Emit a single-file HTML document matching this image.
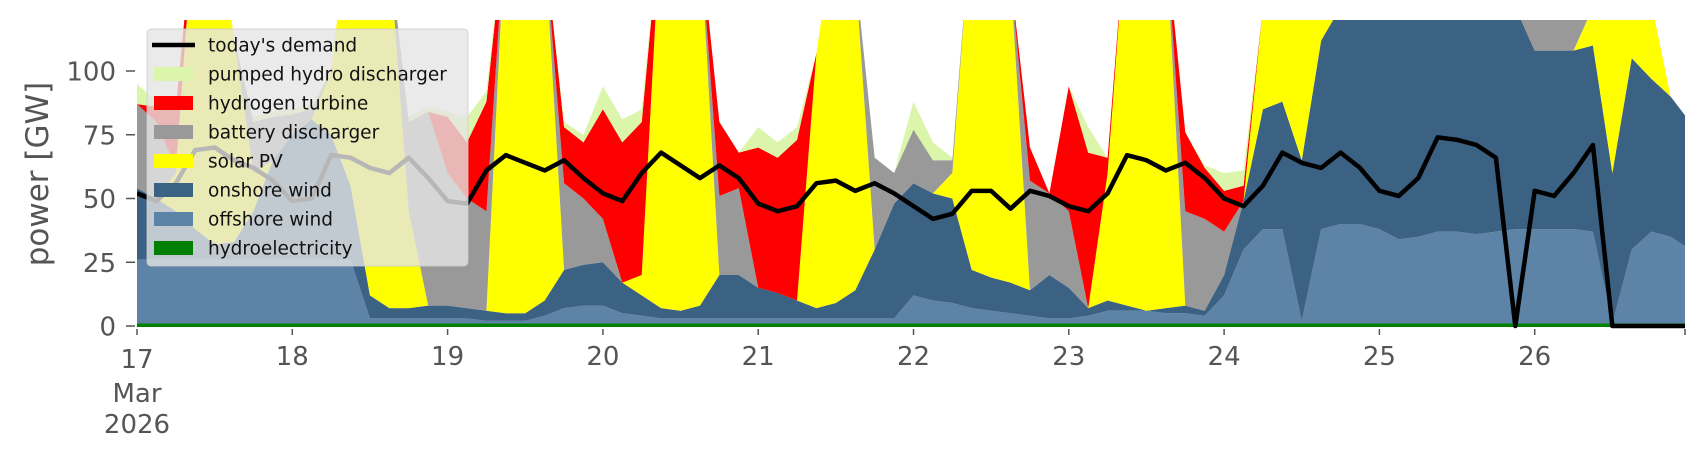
<!DOCTYPE html>
<html><head><meta charset="utf-8">
<style>
html,body{margin:0;padding:0;background:#fff;}
svg{display:block;font-family:"DejaVu Sans","Liberation Sans",sans-serif;}
</style></head>
<body>
<svg id="chart" width="1706" height="460" viewBox="0 0 1706 460" xmlns="http://www.w3.org/2000/svg">
<defs><clipPath id="plotclip"><rect x="137" y="20" width="1548" height="310"/></clipPath></defs>
<g id="areas" clip-path="url(#plotclip)"></g>
<g id="demandg" clip-path="url(#plotclip)"></g>
<g id="xaxis"></g>
<g id="yaxis"></g>
<text x="0" y="0" transform="translate(48,174) rotate(-90)" text-anchor="middle" font-size="31" fill="#555">power [GW]</text>
<g id="legend"></g>
</svg>
<script>
// time axis: 3-hourly samples starting 17 Mar 2026 00:00
const startDay = 17;
const stepDays = 1/8;
const hydro = [1,1,1,1,1,1,1,1, 1,1,1,1,1,1,1,1, 1,1,1,1,1,1,1,1, 1,1,1,1,1,1,1,1, 1,1,1,1,1,1,1,1, 1,1,1,1,1,1,1,1, 1,1,1,1,1,1,1,1, 1,1,1,1,1,1,1,1, 1,1,1,1,1,1,1,1, 1,1,1,1,1,1,1,1, 1];
const offshore = [25,25,25,25,25,25,25,25, 25,25,25,25,2,2,2,2, 2,2,1,1,1,3,6,7, 7,4,3,2,2,2,2,2, 2,2,2,2,2,2,2,2, 11,9,8,6,5,4,3,2, 2,3,5,5,5,4,4,3, 11,29,37,37,1,37,39,39, 37,33,34,36,36,35,36,37, 37,37,37,36,0,29,36,34, 29];
const onshore = [28,24,19,12,6,7,19,39, 49,55,49,29,9,4,4,5, 5,4,4,3,3,6,15,16, 17,12,8,4,3,5,17,17, 12,10,7,4,6,11,27,45, 44,42,41,15,13,12,10,17, 12,3,4,2,0,2,3,2, 8,19,47,50,63,74,85,85, 88,91,90,88,88,89,88,87, 70,70,70,73,59,75,60,55, 50];
const solar = [0,0,15,127,133,80,15,0, 0,0,25,110,150,140,38,0, 0,0,0,155,155,140,0,0, 0,0,8,155,155,145,0,0, 0,0,0,100,150,125,0,0, 0,0,10,140,145,120,0,0, 0,0,50,155,155,145,0,0, 0,0,40,37,60,13,0,0, 0,0,0,0,0,0,0,0, 0,0,0,15,100,60,30,0, 0];
const battery = [33,30,2,0,0,0,20,17, 8,4,0,0,0,0,35,76, 52,43,39,0,0,0,34,26, 17,0,0,0,0,0,31,34, 0,0,0,0,0,0,36,12, 21,13,5,0,0,0,43,32, 30,0,0,0,0,0,37,36, 17,0,0,0,0,0,0,0, 0,0,0,0,0,0,0,0, 17,17,17,0,0,0,0,0, 0];
const hydrogen = [0,6,23,0,0,0,0,0, 0,0,0,0,0,0,0,0, 22,22,43,0,0,0,22,22, 43,55,60,0,0,0,29,14, 55,53,63,0,0,0,0,0, 0,0,0,0,0,0,13,0, 49,61,6,0,0,0,31,20, 16,6,0,0,0,0,0,0, 0,0,0,0,0,0,0,0, 0,0,0,0,0,0,0,0, 0];
const pumped = [8,2,0,0,0,0,2,2, 2,2,0,0,0,0,2,2, 2,10,4,0,0,0,2,3, 9,9,5,0,0,0,0,0, 8,6,5,0,0,0,0,0, 11,7,1,0,0,0,0,0, 0,10,0,0,0,0,0,1, 7,6,0,0,0,0,0,0, 0,0,0,0,0,0,0,0, 0,0,0,0,0,0,0,0, 0];
const demand = [52,49,56,69,70,65,62,57, 49,50,67,66,62,60,66,58, 49,48,61,67,64,61,65,58, 52,49,60,68,63,58,63,58, 48,45,47,56,57,53,56,52, 47,42,44,53,53,46,53,51, 47,45,52,67,65,61,64,58, 50,47,55,68,64,62,68,62, 53,51,58,74,73,71,66,0, 53,51,60,71,0,0,0,0, 0];
const xTickLabels = ["17","18","19","20","21","22","23","24","25","26"];
const yTickValues = [0,25,50,75,100];
const seriesNames = ["hydroelectricity","offshore wind","onshore wind","solar PV","battery discharger","hydrogen turbine","pumped hydro discharger"];

const NS="http://www.w3.org/2000/svg";
function xScale(day){return 137 + (day-17)*155.3;}
function yScale(v){return 326 - v*2.55;}
function mk(tag,attrs,parent){const e=document.createElementNS(NS,tag);for(const k in attrs)e.setAttribute(k,attrs[k]);parent.appendChild(e);return e;}

const stack=[hydro,offshore,onshore,solar,battery,hydrogen,pumped];
const colors=["#008000","#5d83a6","#3b6283","#ffff00","#999999","#ff0000","#dbf6aa"];
const slugs=["area-hydroelectricity","area-offshore-wind","area-onshore-wind","area-solar-pv","area-battery-discharger","area-hydrogen-turbine","area-pumped-hydro"];
const areasG=document.getElementById('areas');
const n=demand.length;
let base=new Array(n).fill(0);
stack.forEach((s,k)=>{
  const top=base.map((b,i)=>b+s[i]);
  let d="";
  for(let i=0;i<n;i++){d+=(i?"L":"M")+xScale(startDay+i*stepDays).toFixed(2)+","+yScale(top[i]).toFixed(2);}
  for(let i=n-1;i>=0;i--){d+="L"+xScale(startDay+i*stepDays).toFixed(2)+","+yScale(base[i]).toFixed(2);}
  d+="Z";
  const p=mk('path',{d:d,fill:colors[k],stroke:k===0?colors[k]:"none","stroke-width":k===0?2:0},areasG);
  
  
  base=top;
});
// demand line
const dg=document.getElementById('demandg');
let dd="";
for(let i=0;i<n;i++){dd+=(i?"L":"M")+xScale(startDay+i*stepDays).toFixed(2)+","+yScale(demand[i]).toFixed(2);}
const dl=mk('path',{d:dd,fill:"none",stroke:"#000","stroke-width":4.5,"stroke-linejoin":"round"},dg);



// x axis
const xa=document.getElementById('xaxis');
xTickLabels.forEach((lab,i)=>{
  const x=xScale(17+i);
  const t=mk('line',{x1:x,x2:x,y1:329,y2:335,stroke:"#555","stroke-width":1.5},xa);
  
  
  const tx=mk('text',{x:x,y:i===0?368:365,"text-anchor":"middle","font-size":26,fill:"#555"},xa);
  tx.textContent=lab;
  
  
});
const endT=mk('line',{x1:1685,x2:1685,y1:329,y2:335,stroke:"#555","stroke-width":1.5},xa);


const m1=mk('text',{x:137,y:402,"text-anchor":"middle","font-size":26,fill:"#555"},xa);m1.textContent="Mar";


const m2=mk('text',{x:137,y:433,"text-anchor":"middle","font-size":26,fill:"#555"},xa);m2.textContent="2026";



// y axis
const ya=document.getElementById('yaxis');
yTickValues.forEach(v=>{
  const y=yScale(v);
  const t=mk('line',{x1:126,x2:135,y1:y,y2:y,stroke:"#555","stroke-width":1.5},ya);
  
  
  const tx=mk('text',{x:116,y:y+9.5,"text-anchor":"end","font-size":26,fill:"#555"},ya);
  tx.textContent=String(v);
  
  
});

// legend
const lg=document.getElementById('legend');
const box=mk('rect',{x:147,y:29,width:321,height:237,rx:4,fill:"#e5e5e5","fill-opacity":0.8,stroke:"#cccccc","stroke-opacity":0.8},lg);


const legItems=[["today's demand","line","#000"],["pumped hydro discharger","patch","#dbf6aa"],["hydrogen turbine","patch","#ff0000"],["battery discharger","patch","#999999"],["solar PV","patch","#ffff00"],["onshore wind","patch","#3b6283"],["offshore wind","patch","#5d83a6"],["hydroelectricity","patch","#008000"]];
legItems.forEach((it,k)=>{
  const cy=45+29*k;
  const g=mk('g',{},lg);
  
  
  if(it[1]==="line"){mk('line',{x1:152,x2:195,y1:cy,y2:cy,stroke:"#000","stroke-width":4.5},g);}
  else{mk('rect',{x:154,y:cy-7,width:39,height:14,fill:it[2]},g);}
  const t=mk('text',{x:208,y:cy+6.5,"font-size":18.5,fill:"#111"},g);
  t.textContent=it[0];
});
</script>
</body></html>
